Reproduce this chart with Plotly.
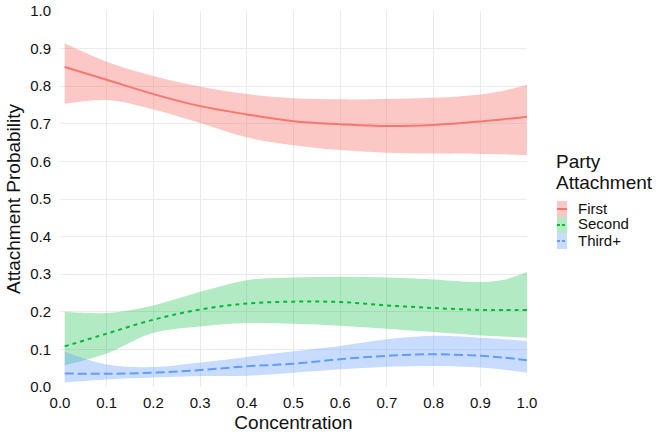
import plotly.graph_objects as go

# ---- data ----
concentration = [0.01, 0.1, 0.2, 0.3, 0.4, 0.5, 0.6, 0.7, 0.8, 0.9, 0.95, 1.0]

first_mean = [0.851, 0.817, 0.779, 0.747, 0.725, 0.707, 0.699, 0.694, 0.697, 0.706, 0.712, 0.719]
first_lo   = [0.753, 0.763, 0.738, 0.702, 0.664, 0.643, 0.630, 0.623, 0.621, 0.620, 0.619, 0.617]
first_hi   = [0.914, 0.865, 0.827, 0.799, 0.779, 0.768, 0.765, 0.766, 0.769, 0.778, 0.788, 0.804]

second_mean = [0.108, 0.142, 0.179, 0.206, 0.222, 0.227, 0.226, 0.217, 0.210, 0.205, 0.205, 0.205]
second_lo   = [0.058, 0.089, 0.144, 0.161, 0.170, 0.168, 0.163, 0.155, 0.146, 0.137, 0.134, 0.131]
second_hi   = [0.200, 0.197, 0.217, 0.253, 0.284, 0.291, 0.293, 0.291, 0.286, 0.279, 0.285, 0.306]

third_mean = [0.036, 0.035, 0.038, 0.045, 0.055, 0.062, 0.074, 0.083, 0.087, 0.083, 0.078, 0.071]
third_lo   = [0.012, 0.020, 0.025, 0.029, 0.030, 0.038, 0.047, 0.054, 0.056, 0.052, 0.046, 0.038]
third_hi   = [0.094, 0.060, 0.053, 0.065, 0.080, 0.095, 0.109, 0.127, 0.136, 0.131, 0.127, 0.122]

group_names = ["First", "Second", "Third+"]
tick_vals = [0.0, 0.1, 0.2, 0.3, 0.4, 0.5, 0.6, 0.7, 0.8, 0.9, 1.0]
tick_text = ["0.0", "0.1", "0.2", "0.3", "0.4", "0.5", "0.6", "0.7", "0.8", "0.9", "1.0"]

# ---- styling ----
colors = ["#F8766D", "#00BA38", "#619CFF"]
fills = ["rgba(248,118,109,0.4)", "rgba(0,186,56,0.3)", "rgba(97,156,255,0.35)"]
dashes = ["solid", "4px,4px", "9px,4px"]
FONT = "Liberation Sans, Arial, sans-serif"
TXT = "#111111"

series = [
    (first_mean, first_lo, first_hi),
    (second_mean, second_lo, second_hi),
    (third_mean, third_lo, third_hi),
]

fig = go.Figure()
for name, (m, lo, hi), c, f, d in zip(group_names, series, colors, fills, dashes):
    fig.add_trace(go.Scatter(x=concentration, y=lo, mode="lines",
                             line=dict(width=0, shape="spline"),
                             showlegend=False, hoverinfo="skip"))
    fig.add_trace(go.Scatter(x=concentration, y=hi, mode="lines", fill="tonexty",
                             fillcolor=f, line=dict(width=0, shape="spline"),
                             showlegend=False, hoverinfo="skip"))
    fig.add_trace(go.Scatter(x=concentration, y=m, mode="lines", name=name,
                             line=dict(color=c, width=2, dash=d, shape="spline"),
                             showlegend=False))

# ---- plot area geometry (pixels) ----
W, H = 660, 437
L, R, T, B = 60, 133, 11, 50
pw, ph = W - L - R, H - T - B

def px_x(px):
    return (px - L) / pw

def px_y(py):
    return (H - B - py) / ph

shapes = []
annotations = []
# manual ggplot-style legend
key_x0, key_x1 = 557, 567
key_centers = [209, 225, 241]
for name, c, f, d, yc in zip(group_names, colors, fills, dashes, key_centers):
    shapes.append(dict(type="rect", xref="paper", yref="paper",
                       x0=px_x(key_x0), x1=px_x(key_x1),
                       y0=px_y(yc + 8), y1=px_y(yc - 8),
                       fillcolor=f, line=dict(width=0), layer="above"))
    shapes.append(dict(type="line", xref="paper", yref="paper",
                       x0=px_x(key_x0), x1=px_x(key_x1),
                       y0=px_y(yc), y1=px_y(yc),
                       line=dict(color=c, width=2, dash="solid" if d == "solid" else "3px,2px"),
                       layer="above"))
    annotations.append(dict(text=name, xref="paper", yref="paper",
                            x=px_x(576), y=px_y(yc - 1), xanchor="left", yanchor="middle",
                            showarrow=False, font=dict(family=FONT, size=15, color=TXT)))
annotations.append(dict(text="Party", xref="paper", yref="paper",
                        x=px_x(554), y=px_y(162), xanchor="left", yanchor="middle",
                        showarrow=False, font=dict(family=FONT, size=19, color=TXT)))
annotations.append(dict(text="Attachment", xref="paper", yref="paper",
                        x=px_x(554), y=px_y(182), xanchor="left", yanchor="middle",
                        showarrow=False, font=dict(family=FONT, size=19, color=TXT)))

axis_common = dict(
    range=[0, 1], tickvals=tick_vals, ticktext=tick_text,
    showgrid=True, gridcolor="#EBEBEB", gridwidth=1.2,
    zeroline=False, showline=False, automargin=False,
    tickcolor="rgba(0,0,0,0)",
    tickfont=dict(family=FONT, size=15, color=TXT),
)

fig.update_layout(
    width=W, height=H,
    margin=dict(l=L, r=R, t=T, b=B),
    paper_bgcolor="white", plot_bgcolor="white",
    showlegend=False,
    xaxis=dict(**axis_common, ticks="outside", ticklen=2,
               title=dict(text="Concentration", standoff=5,
                          font=dict(family=FONT, size=19, color=TXT))),
    yaxis=dict(**axis_common, ticks="outside", ticklen=5,
               title=dict(text="Attachment Probability", standoff=4,
                          font=dict(family=FONT, size=19, color=TXT))),
    shapes=shapes,
    annotations=annotations,
)

fig.write_html("out.html")
